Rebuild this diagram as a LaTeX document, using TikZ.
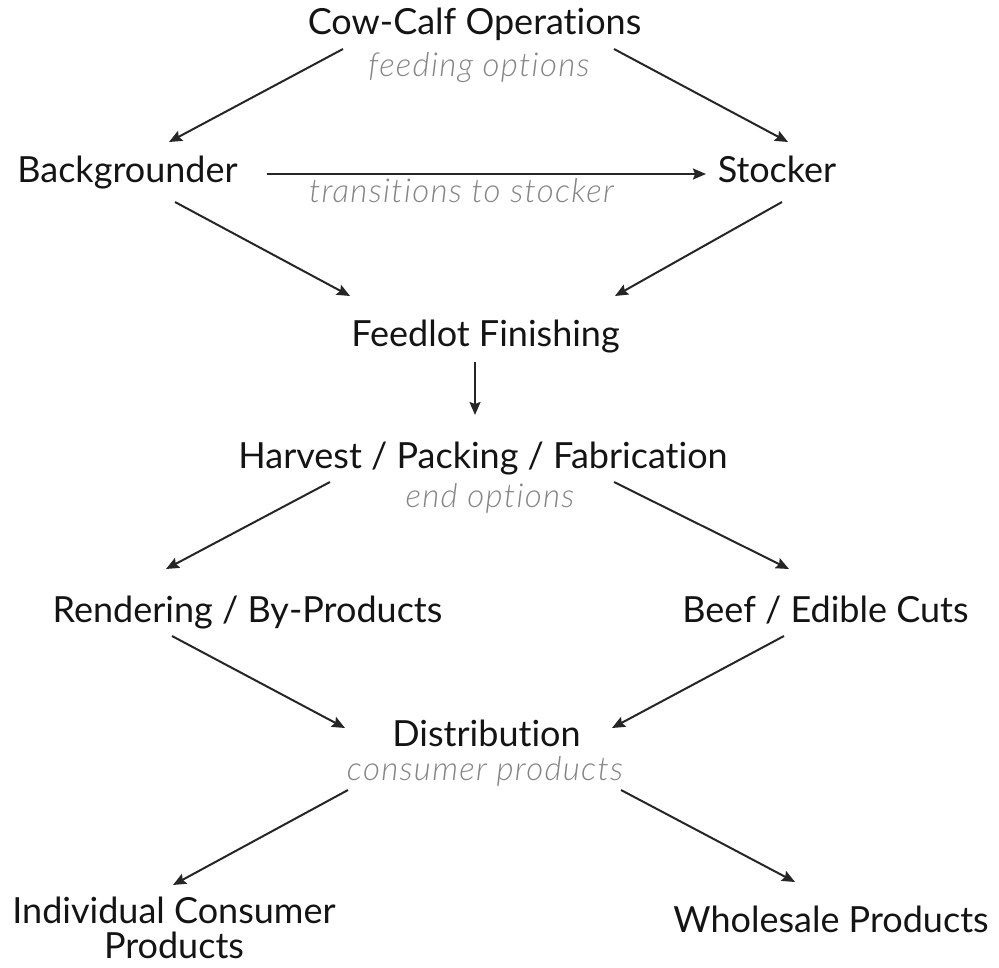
\documentclass[tikz,border=0pt]{standalone}
\usepackage{fontspec}
\setmainfont{Lato}[Ligatures=NoCommon]
\newfontfamily\notefont{Lato Light}[Ligatures=NoCommon, LetterSpace=4]
\usetikzlibrary{arrows.meta}

\tikzset{
    stage/.style={font=\fontsize{36}{35}\selectfont, text=black!92, inner sep=0pt, anchor=base},
    note/.style={font=\notefont\itshape\fontsize{33}{36}\selectfont, text=black!48, inner sep=0pt, anchor=base},
    flow/.style={draw=black!85, line width=2pt, -{Stealth[length=13pt, width=11pt, inset=2pt]}},
}

\begin{document}
\begin{tikzpicture}[x=1pt, y=-1pt]
    \useasboundingbox (0,0) rectangle (999,968);

    \node[stage] (cow) at (474.5,35) {Cow-Calf Operations};
    \node[note] (feeding) at (479,77) {feeding options};
    \node[stage] (back) at (127.5,183) {Backgrounder};
    \node[stage] (stock) at (777,183) {Stocker};
    \node[note] (trans) at (461.5,203) {transitions to stocker};
    \node[stage] (feedlot) at (485.5,347) {Feedlot Finishing};
    \node[stage] (harvest) at (483,468) {Harvest / Packing / Fabrication};
    \node[note] (endopt) at (490,507) {end options};
    \node[stage] (render) at (247.5,622) {Rendering / By-Products};
    \node[stage] (beef) at (825.5,622) {Beef / Edible Cuts};
    \node[stage] (dist) at (486.5,746) {Distribution};
    \node[note] (consumer) at (485,780) {consumer products};
    \node[stage, align=center] (indiv) at (174,958) {Individual Consumer\\Products};
    \node[stage] (whole) at (831,932) {Wholesale Products};

    % feeding options
    \draw[flow] ([shift={(-131.5,14)}]cow.base) -- ([shift={(41.5,-41)}]back.base);
    \draw[flow] ([shift={(139.5,14)}]cow.base) -- ([shift={(11,-41)}]stock.base);
    \draw[flow] ([shift={(139.5,-9)}]back.base) -- ([shift={(-71,-9)}]stock.base);

    % into the feedlot
    \draw[flow] ([shift={(47.5,19)}]back.base) -- ([shift={(-135.5,-51)}]feedlot.base);
    \draw[flow] ([shift={(5,19)}]stock.base) -- ([shift={(129.5,-51)}]feedlot.base);
    \draw[flow] ([shift={(-10.5,15)}]feedlot.base) -- ([shift={(-8,-53)}]harvest.base);

    % end options
    \draw[flow] ([shift={(-153,14)}]harvest.base) -- ([shift={(-81.5,-53)}]render.base);
    \draw[flow] ([shift={(131,14)}]harvest.base) -- ([shift={(-36.5,-53)}]beef.base);
    \draw[flow] ([shift={(-75.5,14)}]render.base) -- ([shift={(-141.5,-18)}]dist.base);
    \draw[flow] ([shift={(-41.5,14)}]beef.base) -- ([shift={(125.5,-18)}]dist.base);

    % consumer products
    \draw[flow] ([shift={(-138.5,44)}]dist.base) -- ([shift={(-1,-73)}]indiv.base);
    \draw[flow] ([shift={(134.5,44)}]dist.base) -- ([shift={(-36,-50)}]whole.base);
\end{tikzpicture}
\end{document}
